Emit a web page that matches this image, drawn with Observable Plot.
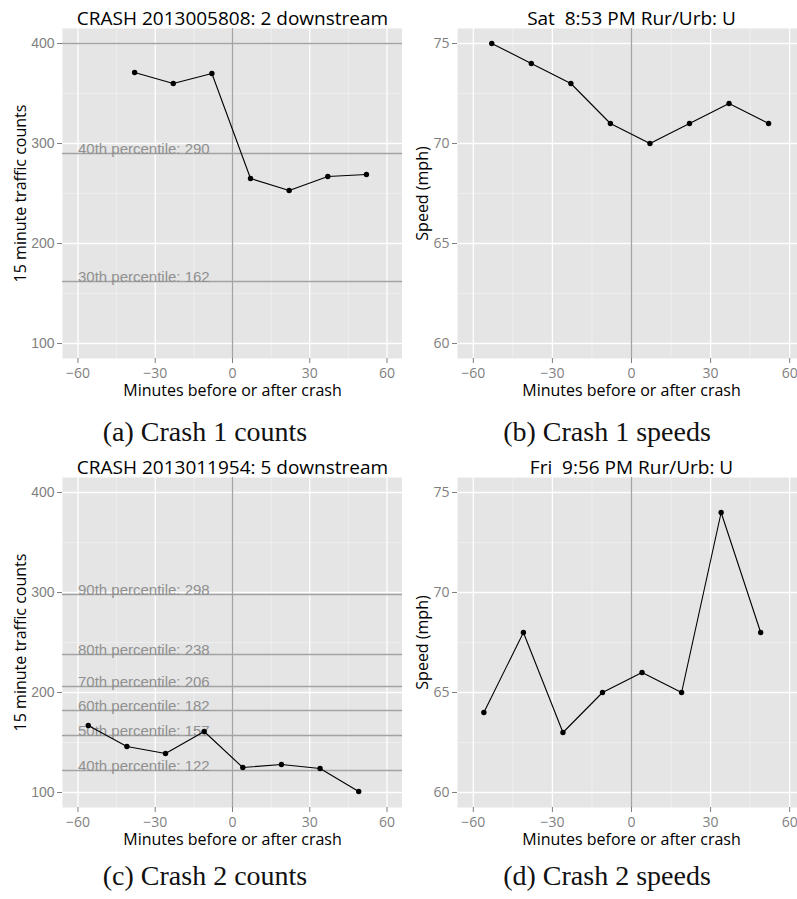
<!DOCTYPE html>
<html>
<head>
<meta charset="utf-8">
<script src="https://cdn.jsdelivr.net/npm/d3@7"></script>
<script src="https://cdn.jsdelivr.net/npm/@observablehq/plot@0.6"></script>
<style>
  html, body { margin: 0; padding: 0; overflow: hidden; background: white; }
  #root { position: relative; width: 797px; height: 899px; overflow: hidden; }
  .panel { position: absolute; }
  .caption { position: absolute; width: 320px; text-align: center; font-family: "Liberation Serif", "DejaVu Serif", serif; font-size: 28px; line-height: 28px; color: #111; white-space: nowrap; }
</style>
</head>
<body>
<div id="root"></div>
<script>
// ---- data ----
const xTicks = [-60, -30, 0, 30, 60];
const xMinor = [-45, -15, 15, 45];
const countTicks = [100, 200, 300, 400];
const countMinor = [150, 250, 350];
const speedTicks = [60, 65, 70, 75];
const speedMinor = [62.5, 67.5, 72.5];

const crash1CountMinutes = [-38, -23, -8, 7, 22, 37, 52];
const crash1Counts = [371, 360, 370, 265, 253, 267, 269];
const crash1SpeedMinutes = [-53, -38, -23, -8, 7, 22, 37, 52];
const crash1Speeds = [75, 74, 73, 71, 70, 71, 72, 71];
const crash1PctValues = [400, 290, 162];
const crash1PctLabels = ["", "40th percentile: 290", "30th percentile: 162"];

const crash2Minutes = [-56, -41, -26, -11, 4, 19, 34, 49];
const crash2Counts = [167, 146, 139, 161, 125, 128, 124, 101];
const crash2Speeds = [64, 68, 63, 65, 66, 65, 74, 68];
const crash2PctValues = [298, 238, 206, 182, 157, 122];
const crash2PctLabels = ["90th percentile: 298", "80th percentile: 238", "70th percentile: 206",
                         "60th percentile: 182", "50th percentile: 157", "40th percentile: 122"];

const titles = ["CRASH 2013005808: 2 downstream", "Sat  8:53 PM Rur/Urb: U",
                "CRASH 2013011954: 5 downstream", "Fri  9:56 PM Rur/Urb: U"];
const captions = ["(a) Crash 1 counts", "(b) Crash 1 speeds", "(c) Crash 2 counts", "(d) Crash 2 speeds"];
const xLabel = "Minutes before or after crash";
const countLabel = "15 minute traffic counts";
const speedLabel = "Speed (mph)";

// ---- drawing ----
const grey = "#7f7f7f";
function panel({xs, ys, yDomain, yTicks, yMinor, pctValues, pctLabels, title, yLabel, width, marginLeft, yFont, labelDx}) {
  const pct = (pctValues || []).map((v, i) => ({value: v, label: pctLabels[i]}));
  const pts = xs.map((x, i) => ({x, y: ys[i]}));
  return Plot.plot({
    width, height: 405,
    marginLeft, marginRight: 0, marginTop: 28, marginBottom: 47,
    x: {domain: [-66, 66]},
    y: {domain: yDomain},
    style: {background: "transparent", fontFamily: "Open Sans", fontSize: "14px", color: grey},
    marks: [
      Plot.frame({fill: "#E5E5E5", stroke: null}),
      Plot.ruleX(xMinor, {stroke: "#F2F2F2", strokeWidth: 0.7}),
      Plot.ruleY(yMinor, {stroke: "#F2F2F2", strokeWidth: 0.7}),
      Plot.ruleX(xTicks, {stroke: "white", strokeWidth: 1.3}),
      Plot.ruleY(yTicks, {stroke: "white", strokeWidth: 1.3}),
      Plot.ruleY(pct, {y: "value", stroke: "#a3a3a3", strokeWidth: 1.3}),
      Plot.ruleX([0], {stroke: "#a3a3a3", strokeWidth: 1.3}),
      Plot.text(pct.filter(d => d.label), {x: () => -60, y: "value", text: "label", textAnchor: "start",
        lineAnchor: "bottom", fontFamily: "Liberation Sans", fontSize: 15, fill: "#909090"}),
      Plot.line(pts, {x: "x", y: "y", stroke: "black", strokeWidth: 1.1}),
      Plot.dot(pts, {x: "x", y: "y", r: 2.7, fill: "black", stroke: null}),
      Plot.axisX({ticks: xTicks, tickSize: 5, tickPadding: 5, tickFormat: d3.format("d"), label: null,
        color: grey, fontFamily: "Open Sans", fontSize: 14}),
      Plot.axisY({ticks: yTicks, tickSize: 5, tickPadding: 3, tickFormat: d3.format("d"), label: null,
        color: grey, fontFamily: yFont, fontSize: 14}),
      Plot.text([xLabel], {frameAnchor: "bottom", text: d => d, dy: 32, lineAnchor: "middle",
        fill: "black", fontFamily: "Open Sans", fontSize: 16}),
      Plot.text([yLabel], {frameAnchor: "left", text: d => d, dx: labelDx, rotate: -90, textAnchor: "middle",
        lineAnchor: "bottom", fill: "black", fontFamily: "Open Sans", fontSize: 16}),
      Plot.text([title], {frameAnchor: "top", text: d => d, dy: -4, textAnchor: "middle", lineAnchor: "bottom",
        fill: "black", fontFamily: "Open Sans", fontSize: 19})
    ]
  });
}

const root = document.getElementById("root");
function place(node, left, top, width) {
  const div = document.createElement("div");
  div.className = "panel";
  div.style.left = left + "px";
  div.style.top = top + "px";
  div.style.width = width + "px";
  div.appendChild(node);
  root.appendChild(div);
}
function caption(text, cx, top) {
  const div = document.createElement("div");
  div.className = "caption";
  div.style.left = (cx - 160) + "px";
  div.style.top = top + "px";
  div.textContent = text;
  root.appendChild(div);
}

const countDomain = [85, 415];
const speedDomain = [59.25, 75.75];

place(panel({xs: crash1CountMinutes, ys: crash1Counts, yDomain: countDomain, yTicks: countTicks, yMinor: countMinor,
  pctValues: crash1PctValues, pctLabels: crash1PctLabels, title: titles[0], yLabel: countLabel,
  width: 402, marginLeft: 62, yFont: "Liberation Sans", labelDx: -37}), 0, 0, 402);
place(panel({xs: crash1SpeedMinutes, ys: crash1Speeds, yDomain: speedDomain, yTicks: speedTicks, yMinor: speedMinor,
  title: titles[1], yLabel: speedLabel, width: 405, marginLeft: 57, yFont: "Open Sans", labelDx: -30}), 400, 0, 405);
place(panel({xs: crash2Minutes, ys: crash2Counts, yDomain: countDomain, yTicks: countTicks, yMinor: countMinor,
  pctValues: crash2PctValues, pctLabels: crash2PctLabels, title: titles[2], yLabel: countLabel,
  width: 402, marginLeft: 62, yFont: "Liberation Sans", labelDx: -37}), 0, 449, 402);
place(panel({xs: crash2Minutes, ys: crash2Speeds, yDomain: speedDomain, yTicks: speedTicks, yMinor: speedMinor,
  title: titles[3], yLabel: speedLabel, width: 405, marginLeft: 57, yFont: "Open Sans", labelDx: -30}), 400, 449, 405);

caption(captions[0], 205, 418);
caption(captions[1], 607, 418);
caption(captions[2], 205, 862);
caption(captions[3], 607, 862);
</script>
</body>
</html>
